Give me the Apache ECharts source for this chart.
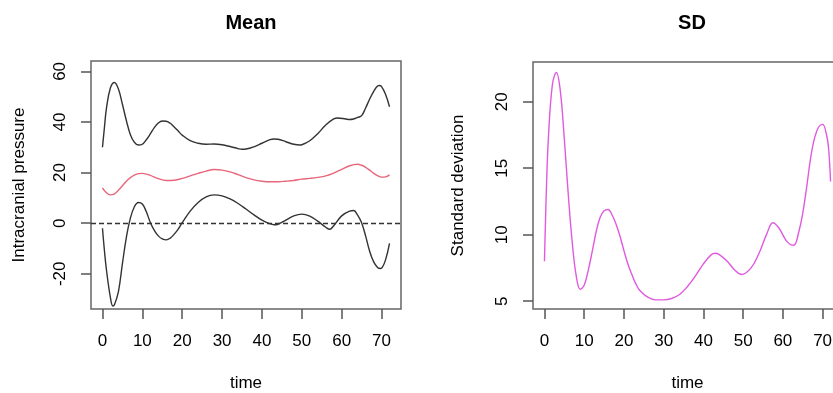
<!DOCTYPE html>
<html>
<head>
<meta charset="utf-8">
<title>Mean / SD</title>
<script src="https://cdn.jsdelivr.net/npm/echarts@6/dist/echarts.min.js"></script>
<style>
  html, body { margin: 0; padding: 0; background: #fff; }
  #chart { width: 833px; height: 393px; }
</style>
</head>
<body>
<div id="chart"></div>
<script>
// tick labels
var timeTicks = [0, 10, 20, 30, 40, 50, 60, 70]
var meanTicks = [-20, 0, 20, 40, 60]
var sdTicks = [5, 10, 15, 20]

// mean curve (red)
var meanTime = [0, 1, 2, 3, 4, 5, 6, 7, 8, 9, 10, 11, 12, 14, 16, 18, 20, 22, 24, 26, 28, 30, 32, 34, 36, 38, 40, 42, 44, 46, 48, 50, 52, 54, 56, 58, 60, 62, 64, 65, 66, 67, 68, 69, 70, 71, 72]
var meanVals = [14.0, 12.0, 11.2, 11.6, 13.0, 14.8, 16.6, 18.0, 19.0, 19.6, 19.7, 19.4, 18.9, 17.6, 16.9, 17.0, 17.7, 18.7, 19.7, 20.6, 21.2, 21.0, 20.3, 19.2, 18.0, 17.1, 16.6, 16.4, 16.4, 16.6, 16.9, 17.4, 17.7, 18.1, 18.7, 19.8, 21.3, 22.7, 23.3, 22.9, 22.1, 21.0, 19.8, 18.8, 18.2, 18.3, 19.1]

// upper band (black)
var upperTime = [0, 0.5, 1, 2, 3, 4, 5, 6, 7, 8, 9, 10, 11, 12, 13, 14, 15, 16, 17, 18, 19, 20, 22, 24, 26, 28, 30, 32, 34, 35, 36, 38, 40, 42, 43, 44, 46, 48, 49.5, 50, 52, 54, 56, 58, 59, 61, 62, 63, 64, 65, 66, 67, 68, 69, 69.5, 70, 71, 72]
var upperVals = [30.0, 38.0, 45.5, 53.5, 55.6, 53.0, 47.0, 40.5, 35.0, 32.0, 30.9, 31.2, 33.0, 35.3, 37.8, 39.6, 40.4, 40.3, 39.5, 38.0, 36.4, 34.8, 32.6, 31.6, 31.2, 31.3, 31.0, 30.3, 29.5, 29.2, 29.3, 30.2, 31.6, 33.0, 33.3, 33.2, 32.2, 31.2, 30.9, 31.0, 32.6, 35.4, 38.8, 41.2, 41.6, 41.2, 41.0, 41.2, 41.8, 42.5, 45.5, 49.0, 52.0, 54.2, 54.4, 54.0, 51.0, 46.0]

// lower band (black)
var lowerTime = [0, 0.5, 1, 2, 2.6, 3, 4, 5, 6, 7, 8, 9, 10, 11, 12, 13, 14, 15, 16, 17, 18, 19, 20, 22, 24, 26, 28, 30, 32, 34, 36, 38, 40, 42, 43, 44, 46, 48, 50, 52, 54, 56, 57, 58, 60, 62, 63, 64, 65, 66, 67, 68, 69, 69.7, 70, 71, 72]
var lowerVals = [-2.0, -11.0, -18.5, -29.5, -32.7, -32.2, -27.0, -16.0, -5.5, 2.0, 6.5, 8.2, 7.6, 4.5, 0.3, -2.8, -5.0, -6.2, -6.6, -5.9, -4.3, -2.3, 0.2, 4.8, 8.2, 10.4, 11.2, 10.8, 9.6, 7.8, 5.6, 3.3, 1.2, -0.2, -0.6, -0.4, 1.2, 2.9, 3.6, 2.8, 0.8, -1.6, -2.4, -1.0, 2.9, 4.8, 5.0, 3.2, 0.2, -5.0, -11.0, -15.2, -17.5, -17.9, -17.8, -14.5, -8.0]

// standard deviation (magenta)
var sdTime = [0, 0.5, 1, 2, 3, 4, 5, 6, 7, 8, 9, 10, 11, 12, 13, 14, 15, 16, 17, 18, 19, 20, 21, 22, 23, 24, 26, 28, 30, 32, 34, 36, 38, 40, 42, 43, 44, 46, 48, 49.6, 52, 54, 56, 57.5, 59, 61, 62.7, 64, 65, 66, 67, 68, 69, 70, 71, 71.5, 72]
var sdVals = [8.0, 13.5, 17.3, 21.3, 22.2, 20.8, 17.2, 13.0, 9.4, 6.9, 5.9, 6.2, 7.3, 8.7, 10.2, 11.3, 11.8, 11.9, 11.5, 10.8, 9.9, 8.8, 7.8, 7.0, 6.3, 5.8, 5.3, 5.1, 5.1, 5.2, 5.5, 6.1, 6.9, 7.8, 8.5, 8.6, 8.5, 8.0, 7.3, 7.0, 7.5, 8.6, 10.1, 10.9, 10.5, 9.5, 9.2, 10.2, 11.6, 13.6, 15.8, 17.3, 18.1, 18.3, 17.5, 16.5, 14.0]

function pairs (xs, ys) {
  var out = []
  for (var i = 0; i < xs.length; i++) {
    out.push([xs[i], ys[i]])
  }
  return out
}

var font = 'Liberation Sans, Arial, sans-serif'
var axisText = { color: '#000', fontSize: 17, fontFamily: font }
var tickStyle = { color: '#555', width: 1.5 }

function xAxisOpt (idx) {
  return {
    type: 'value',
    gridIndex: idx,
    min: -2.88,
    max: 74.88,
    name: 'time',
    nameLocation: 'middle',
    nameGap: 66,
    nameTextStyle: axisText,
    axisLine: { show: false, onZero: false },
    splitLine: { show: false },
    axisTick: { show: true, length: 10, lineStyle: tickStyle, customValues: timeTicks },
    axisLabel: Object.assign({ margin: 24, customValues: timeTicks }, axisText)
  }
}

function yAxisOpt (idx, min, max, ticks, name, gap) {
  return {
    type: 'value',
    gridIndex: idx,
    min: min,
    max: max,
    name: name,
    nameLocation: 'middle',
    nameGap: gap,
    nameTextStyle: axisText,
    axisLine: { show: false, onZero: false },
    splitLine: { show: false },
    axisTick: { show: true, length: 10, lineStyle: tickStyle, customValues: ticks },
    axisLabel: Object.assign({ margin: 22, rotate: 90, customValues: ticks }, axisText)
  }
}

var chart = echarts.init(document.getElementById('chart'), null, { renderer: 'canvas' })
chart.setOption({
  animation: false,
  backgroundColor: '#fff',
  title: [
    { text: 'Mean', left: 246, top: 8, textAlign: 'center', textStyle: { fontSize: 20, fontWeight: 'bold', color: '#000', fontFamily: font } },
    { text: 'SD', left: 687, top: 8, textAlign: 'center', textStyle: { fontSize: 20, fontWeight: 'bold', color: '#000', fontFamily: font } }
  ],
  grid: [
    { left: 91, top: 61, width: 310, height: 248, outerBoundsMode: 'none', show: true, borderColor: '#666', borderWidth: 1.5, backgroundColor: 'transparent' },
    { left: 533, top: 62, width: 309, height: 247, outerBoundsMode: 'none', show: true, borderColor: '#666', borderWidth: 1.5, backgroundColor: 'transparent' }
  ],
  xAxis: [xAxisOpt(0), xAxisOpt(1)],
  yAxis: [
    yAxisOpt(0, -33.9, 64.1, meanTicks, 'Intracranial pressure', 63),
    yAxisOpt(1, 4.41, 22.99, sdTicks, 'Standard deviation', 66)
  ],
  series: [
    {
      name: 'upper',
      type: 'line',
      xAxisIndex: 0,
      yAxisIndex: 0,
      data: pairs(upperTime, upperVals),
      smooth: 0.4,
      symbol: 'none',
      lineStyle: { color: '#333', width: 1.4 },
      markLine: {
        silent: true,
        symbol: 'none',
        label: { show: false },
        lineStyle: { color: '#333', type: [5, 3], width: 1.3 },
        data: [{ yAxis: 0 }]
      }
    },
    {
      name: 'lower',
      type: 'line',
      xAxisIndex: 0,
      yAxisIndex: 0,
      data: pairs(lowerTime, lowerVals),
      smooth: 0.4,
      symbol: 'none',
      lineStyle: { color: '#333', width: 1.4 }
    },
    {
      name: 'mean',
      type: 'line',
      xAxisIndex: 0,
      yAxisIndex: 0,
      data: pairs(meanTime, meanVals),
      smooth: 0.4,
      symbol: 'none',
      lineStyle: { color: '#E8667A', width: 1.4 }
    },
    {
      name: 'sd',
      type: 'line',
      xAxisIndex: 1,
      yAxisIndex: 1,
      data: pairs(sdTime, sdVals),
      smooth: 0.4,
      symbol: 'none',
      lineStyle: { color: '#E05ADF', width: 1.4 }
    }
  ]
})
</script>
</body>
</html>
